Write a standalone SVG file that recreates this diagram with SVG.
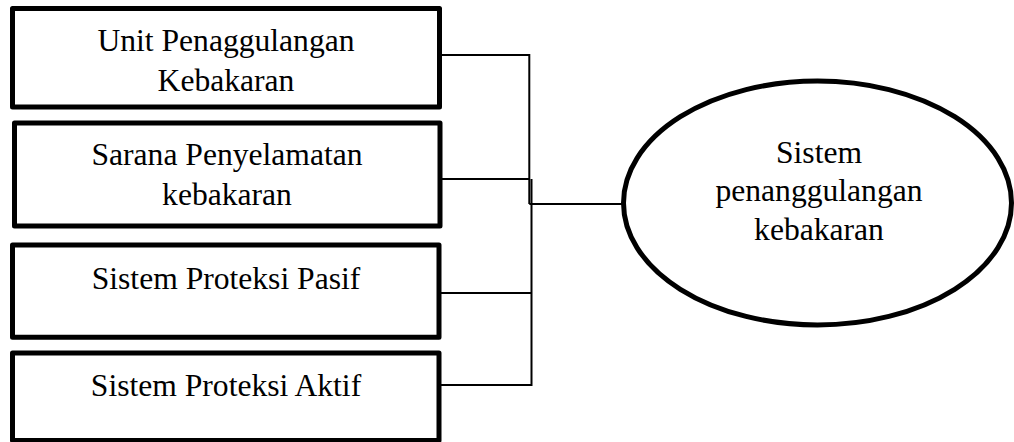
<svg xmlns="http://www.w3.org/2000/svg" width="1014" height="442" viewBox="0 0 1014 442">
<style>
.box{fill:#fff;stroke:#000;stroke-width:5;stroke-linejoin:round}
.t{font-family:"Liberation Serif","Times New Roman",serif;font-size:31.6px;fill:#000;text-anchor:middle}
.c{fill:none;stroke:#000;stroke-width:2}
</style>
<rect width="1014" height="442" fill="#fff"/>
<g id="connectors">
<path class="c" d="M441 55H529.3V204"/>
<path class="c" d="M441 179H529.3"/>
<path class="c" d="M531.5 179V385H441"/>
<path class="c" d="M441 293H531.5"/>
<path class="c" d="M529.3 204H624"/>
</g>
<g id="unit">
<rect class="box" x="12.5" y="8.5" width="427" height="98.5"/>
<text class="t" x="226" y="50.7">Unit Penaggulangan</text>
<text class="t" x="226" y="91">Kebakaran</text>
</g>
<g id="sarana">
<rect class="box" x="14.5" y="123" width="425.5" height="103"/>
<text class="t" x="227" y="165">Sarana Penyelamatan</text>
<text class="t" x="227" y="205">kebakaran</text>
</g>
<g id="pasif">
<rect class="box" x="12.5" y="245" width="426.5" height="92.3"/>
<text class="t" x="226" y="289.3">Sistem Proteksi Pasif</text>
</g>
<g id="aktif">
<rect class="box" x="12.5" y="353" width="426.5" height="87.5"/>
<text class="t" x="226" y="396">Sistem Proteksi Aktif</text>
</g>
<g id="sistem">
<ellipse class="box" cx="817.5" cy="203" rx="194" ry="122"/>
<text class="t" x="819" y="162.7">Sistem</text>
<text class="t" x="819" y="200.7">penanggulangan</text>
<text class="t" x="819" y="240">kebakaran</text>
</g>
</svg>
